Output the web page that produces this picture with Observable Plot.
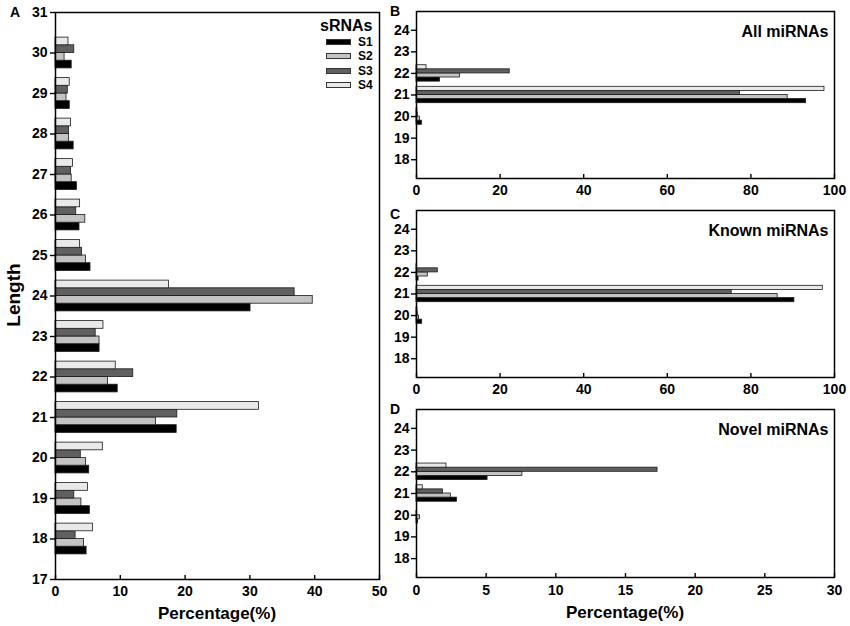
<!DOCTYPE html>
<html><head><meta charset="utf-8">
<script src="https://cdn.jsdelivr.net/npm/d3@7"></script>
<script src="https://cdn.jsdelivr.net/npm/@observablehq/plot@0.6"></script>
<style>
body{margin:0;background:#fff;}
#wrap{position:relative;width:850px;height:626px;overflow:hidden;font-family:"Liberation Sans",Arial,sans-serif;font-weight:bold;color:#000;}
.abs{position:absolute;white-space:nowrap;}
.sw{position:absolute;width:25px;height:6px;border:1px solid #333;box-sizing:border-box;}
</style></head><body><div id="wrap"></div>
<script>
// ---- data ----
const series = ["S1", "S2", "S3", "S4"];

// Panel A: sRNA length distribution
const lengthsA = [18, 19, 20, 21, 22, 23, 24, 25, 26, 27, 28, 29, 30];
const s1A = [4.8, 5.3, 5.2, 18.7, 9.6, 6.8, 30.1, 5.4, 3.7, 3.3, 2.8, 2.2, 2.5];
const s2A = [4.4, 4.0, 4.7, 15.5, 8.1, 6.8, 39.7, 4.7, 4.6, 2.5, 2.1, 1.7, 1.4];
const s3A = [3.1, 2.9, 3.9, 18.8, 12.0, 6.2, 36.9, 4.1, 3.2, 2.4, 2.1, 1.9, 2.9];
const s4A = [5.8, 5.0, 7.3, 31.4, 9.3, 7.4, 17.5, 3.8, 3.8, 2.7, 2.4, 2.2, 2.0];

// Panels B-D: miRNA length distribution
const lengthsMi = [20, 21, 22];
const s1All = [1.3, 93.2, 5.6];
const s2All = [0.8, 88.8, 10.4];
const s3All = [0.3, 77.4, 22.3];
const s4All = [0.2, 97.6, 2.4];

const s1Known = [1.35, 90.4, 0.5];
const s2Known = [0.6, 86.4, 2.7];
const s3Known = [0.3, 75.4, 5.1];
const s4Known = [0.2, 97.2, 0.1];

const s1Novel = [0.1, 2.9, 5.1];
const s2Novel = [0.25, 2.46, 7.6];
const s3Novel = [0.05, 1.9, 17.3];
const s4Novel = [0, 0.45, 2.15];

const ticksA_y = d3.range(17, 32);
const ticksA_x = [0, 10, 20, 30, 40, 50];
const ticksMi_y = [18, 19, 20, 21, 22, 23, 24];
const ticksMi_x = [0, 20, 40, 60, 80, 100];
const ticksNovel_x = [0, 5, 10, 15, 20, 25, 30];

// ---- styles ----
const fills = {S1: "#000000", S2: "#c3c3c3", S3: "#606060", S4: "#e9e9e9"};

const wrap = document.getElementById("wrap");

function rowsOf(lengths, arrays) {
  const rows = [];
  arrays.forEach((arr, i) => lengths.forEach((len, j) => rows.push({len, series: series[i], idx: i, value: arr[j]})));
  return rows;
}

function panel({rows, xDomain, xTicks, yDomain, yTicks, left, top, width, height, mt, mb, ml, mr, title, ytPad, xtPad}) {
  const bw = 0.19, half = 0.38;
  const marks = series.map((s, i) => Plot.rect(rows.filter(r => r.series === s && r.value > 0), {
    x1: d => 0, x2: "value",
    y1: d => d.len - half + d.idx * bw,
    y2: d => d.len - half + (d.idx + 1) * bw,
    fill: fills[s], stroke: "#1a1a1a", strokeWidth: 0.8
  }));
  marks.push(Plot.axisY({ticks: yTicks, tickSize: 5, tickPadding: ytPad, label: null, tickFormat: d => d, strokeWidth: 1.4, fontSize: 14, fontWeight: "bold"}));
  marks.push(Plot.axisX({ticks: xTicks, tickSize: 0, tickPadding: xtPad, label: null, tickFormat: d => d, fontSize: 14, fontWeight: "bold"}));
  marks.push(Plot.axisX({ticks: xTicks, tickSize: -4, tickFormat: () => "", label: null, strokeWidth: 1.4}));
  marks.push(Plot.frame({stroke: "#000", strokeWidth: 1.5}));
  if (title) marks.push(Plot.text([title], {text: d => d, frameAnchor: "top-right", dx: -6, dy: 14, textAnchor: "end", fontSize: 16, fontWeight: "bold"}));
  const p = Plot.plot({
    width, height, marginTop: mt, marginBottom: mb, marginLeft: ml, marginRight: mr,
    x: {domain: xDomain},
    y: {domain: yDomain},
    style: {fontFamily: "Liberation Sans, Arial, sans-serif", fontSize: "14px", fontWeight: "bold", background: "transparent", overflow: "visible", color: "#000"},
    marks
  });
  const d = document.createElement("div");
  d.className = "abs";
  d.style.left = left + "px";
  d.style.top = top + "px";
  d.appendChild(p);
  wrap.appendChild(d);
}

panel({rows: rowsOf(lengthsA, [s1A, s2A, s3A, s4A]), xDomain: [0, 50], xTicks: ticksA_x, yDomain: [17, 31], yTicks: ticksA_y,
  left: 0, top: 0, width: 385, height: 605, mt: 12, mb: 26, ml: 55, mr: 6, ytPad: 3, xtPad: 7});

const yDomMi = [17.13, 24.87];
panel({rows: rowsOf(lengthsMi, [s1All, s2All, s3All, s4All]), xDomain: [0, 100], xTicks: ticksMi_x, yDomain: yDomMi, yTicks: ticksMi_y,
  left: 385, top: 0, width: 465, height: 200, mt: 11, mb: 22, ml: 31, mr: 16, title: "All miRNAs", ytPad: 2, xtPad: 7});
panel({rows: rowsOf(lengthsMi, [s1Known, s2Known, s3Known, s4Known]), xDomain: [0, 100], xTicks: ticksMi_x, yDomain: yDomMi, yTicks: ticksMi_y,
  left: 385, top: 200, width: 465, height: 200, mt: 10, mb: 23, ml: 31, mr: 16, title: "Known miRNAs", ytPad: 2, xtPad: 7});
panel({rows: rowsOf(lengthsMi, [s1Novel, s2Novel, s3Novel, s4Novel]), xDomain: [0, 30], xTicks: ticksNovel_x, yDomain: yDomMi, yTicks: ticksMi_y,
  left: 385, top: 400, width: 465, height: 200, mt: 9, mb: 23, ml: 31, mr: 16, title: "Novel miRNAs", ytPad: 2, xtPad: 8});

// ---- HTML text: panel letters, axis titles, legend ----
function addText(txt, x, y, size, extra) {
  const e = document.createElement("div");
  e.className = "abs";
  e.textContent = txt;
  e.style.left = x + "px";
  e.style.top = y + "px";
  e.style.fontSize = size + "px";
  e.style.lineHeight = "1";
  if (extra) Object.assign(e.style, extra);
  wrap.appendChild(e);
  return e;
}
addText("A", 10, 5, 14);
addText("B", 390, 4, 14);
addText("C", 390, 207, 14);
addText("D", 390, 402, 14);
addText("Percentage(%)", 217, 613, 17, {transform: "translate(-50%,-50%)"});
addText("Percentage(%)", 625, 612, 17, {transform: "translate(-50%,-50%)"});
addText("Length", 12.5, 295, 19, {transform: "translate(-50%,-50%) rotate(-90deg)"});

addText("sRNAs", 320, 18, 16);
series.forEach((s, i) => {
  const cy = [42.3, 56.3, 71, 85.3][i];
  const sw = document.createElement("div");
  sw.className = "sw";
  sw.style.left = "326px";
  sw.style.top = (cy - 3) + "px";
  sw.style.background = fills[s];
  wrap.appendChild(sw);
  addText(s, 358, cy - 6, 12);
});
</script></body></html>
